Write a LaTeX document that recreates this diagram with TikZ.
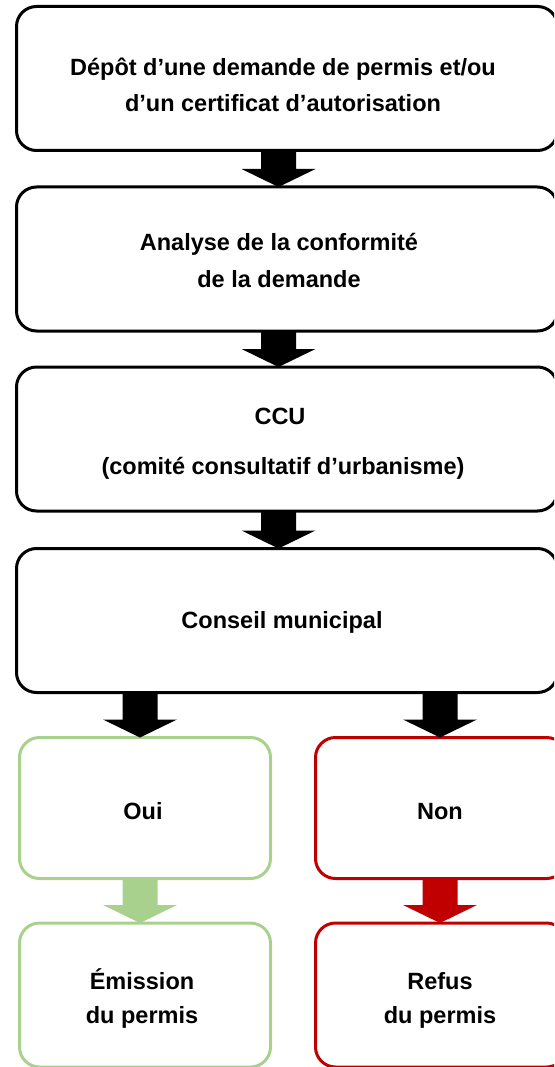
\documentclass[tikz,border=0pt]{standalone}
\usepackage{fontspec}
\setmainfont{Liberation Sans}
\usetikzlibrary{calc}
\definecolor{okgreen}{HTML}{A9D18E}
\definecolor{nored}{HTML}{C00000}
\tikzset{
  box/.style={draw=#1, line width=3pt, rounded corners=20pt, inner sep=0pt, outer sep=0pt, fill=white},
  box/.default=black,
  lbl/.style={font=\bfseries\fontsize{23.5}{27}\selectfont, anchor=base, inner sep=0pt}
}
\newcommand{\blockarr}[3]{%
  \fill[#3] let \p1=#1, \p2=#2 in
    (\x1-17.5pt,\y1) -- (\x1+17.5pt,\y1) -- (\x1+17.5pt,\y2+18pt) -- (\x1+37pt,\y2+18pt)
    -- (\x1,\y2) -- (\x1-37pt,\y2+18pt) -- (\x1-17.5pt,\y2+18pt) -- cycle;}
\begin{document}
\begin{tikzpicture}[x=1pt,y=-1pt]
\useasboundingbox (0,0) rectangle (554,1067);
\clip (0,0) rectangle (554,1067);
% main boxes
\node[box, minimum width=541pt, minimum height=144pt] (b1) at (287,78.5) {};
\node[box, minimum width=541pt, minimum height=144pt] (b2) at (287,259) {};
\node[box, minimum width=541pt, minimum height=144pt] (b3) at (287,439) {};
\node[box, minimum width=541pt, minimum height=144pt] (b4) at (287,620.5) {};
\node[box=okgreen, minimum width=251pt, minimum height=141pt] (oui) at (145,808) {};
\node[box=nored, minimum width=251pt, minimum height=141pt] (non) at (441,808) {};
\node[box=okgreen, minimum width=251pt, minimum height=144pt] (emi) at (145,995) {};
\node[box=nored, minimum width=251pt, minimum height=144pt] (ref) at (441,995) {};
% texts
\node[lbl] (t1a) at (283,76) {Dépôt d’une demande de permis et/ou};
\node[lbl] (t1b) at (283,112) {d’un certificat d’autorisation};
\node[lbl] (t2a) at (279,251) {Analyse de la conformité};
\node[lbl] (t2b) at (279,287) {de la demande};
\node[lbl] (t3a) at (280,424) {CCU};
\node[lbl] (t3b) at (283,474) {(comité consultatif d’urbanisme)};
\node[lbl] (t4) at (282,628) {Conseil municipal};
\node[lbl] (t5) at (143,819) {Oui};
\node[lbl] (t6) at (440,819) {Non};
\node[lbl] (t7) at (142,989) {Émission};
\node[lbl] (t8) at (142,1023) {du permis};
\node[lbl] (t9) at (440,989) {Refus};
\node[lbl] (t10) at (440,1023) {du permis};
% arrows
\blockarr{([xshift=-8.5pt]b1.south)}{([xshift=-8.5pt]b2.north)}{black}
\blockarr{([xshift=-8.5pt]b2.south)}{([xshift=-8.5pt]b3.north)}{black}
\blockarr{([xshift=-8.5pt]b3.south)}{([xshift=-8.5pt]b4.north)}{black}
\blockarr{([xshift=-5pt]oui.north |- b4.south)}{([xshift=-5pt]oui.north)}{black}
\blockarr{([xshift=-1pt]non.north |- b4.south)}{([xshift=-1pt]non.north)}{black}
\blockarr{([xshift=-5pt]oui.south)}{([xshift=-5pt]emi.north)}{okgreen}
\blockarr{([xshift=-1pt]non.south)}{([xshift=-1pt]ref.north)}{nored}
\end{tikzpicture}
\end{document}
